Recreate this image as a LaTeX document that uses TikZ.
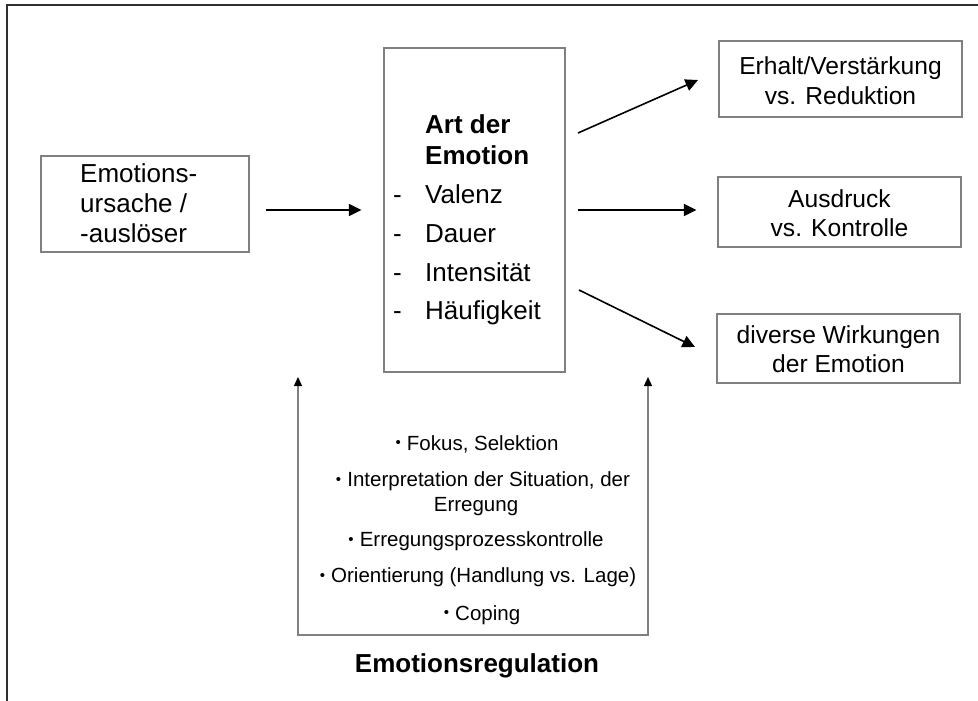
\documentclass[tikz,border=0pt]{standalone}
\usepackage{fontspec}
\setmainfont{Liberation Sans}
\usetikzlibrary{arrows.meta,calc}
\definecolor{boxgray}{HTML}{808080}
\definecolor{framegray}{HTML}{303030}
\newcommand{\smallbul}{\raisebox{0.12em}{\fontsize{15}{15}\selectfont •}\hspace{0.3em}}
\begin{document}
\begin{tikzpicture}[x=1pt,y=-1pt,
  box/.style={draw=boxgray,line width=1.3pt,inner sep=0pt},
  rtxt/.style={inner sep=0pt,anchor=base,font=\fontsize{24.6}{29}\selectfont},
  ltxt/.style={inner sep=0pt,anchor=base west,font=\fontsize{26}{30}\selectfont},
  btxt/.style={inner sep=0pt,anchor=base west,font=\bfseries\fontsize{26}{30}\selectfont},
  itxt/.style={inner sep=0pt,anchor=base,font=\fontsize{20.5}{24}\selectfont},
  arr/.style={line width=1.6pt,-{Triangle[length=12.5pt,width=12pt]}},
  brk/.style={draw=boxgray,line width=1.3pt,
    {Triangle[length=9pt,width=8pt,color=black]}-{Triangle[length=9pt,width=8pt,color=black]}},
  frame/.style={draw=framegray,line width=2pt}
]
\useasboundingbox (0,0) rectangle (978,701);
\fill[white] (0,0) rectangle (978,701);
\draw[frame] (7,701) -- (7,5) -- (978,5);

% boxes
\node[box,minimum width=208pt,minimum height=96pt] (cause) at (145,204) {};
\node[box,minimum width=181pt,minimum height=324pt] (art) at (474.5,210) {};
\node[box,minimum width=243pt,minimum height=76pt] (keep) at (840.5,79) {};
\node[box,minimum width=243pt,minimum height=70pt] (expr) at (839.5,212) {};
\node[box,minimum width=243pt,minimum height=69pt] (eff) at (838.5,348.5) {};

% left box text
\node[ltxt] (c1) at (80,182) {Emotions-};
\node[ltxt] (c2) at (80,212.5) {ursache /};
\node[ltxt] (c3) at (80,242) {-auslöser};

% center box text
\node[btxt] (a1) at (425,133) {Art der};
\node[btxt] (a2) at (425,164) {Emotion};
\node[ltxt] (a3) at (393,203) {\makebox[32pt][l]{-}Valenz};
\node[ltxt] (a4) at (393,242) {\makebox[32pt][l]{-}Dauer};
\node[ltxt] (a5) at (393,281) {\makebox[32pt][l]{-}Intensität};
\node[ltxt] (a6) at (393,319) {\makebox[32pt][l]{-}Häufigkeit};

% right boxes text
\node[rtxt] (k1) at (840.5,75) {Erhalt/Verstärkung};
\node[rtxt] (k2) at (840.5,104) {vs. Reduktion};
\node[rtxt] (e1) at (839.5,207) {Ausdruck};
\node[rtxt] (e2) at (839.5,236) {vs. Kontrolle};
\node[rtxt] (w1) at (838.5,343) {diverse Wirkungen};
\node[rtxt] (w2) at (838.5,372.5) {der Emotion};

% arrows
\draw[arr,shorten <=16pt,shorten >=22pt] (cause.east |- art.west) -- (art.west);
\coordinate (t1s) at (578,133);
\coordinate (t1e) at (698,80);
\coordinate (t3s) at (579,290);
\coordinate (t3e) at (695,347);
\draw[arr] (t1s) -- (t1e);
\draw[arr,shorten <=12pt,shorten >=21pt] (art.east) -- (art.east -| expr.west);
\draw[arr] (t3s) -- (t3e);

% regulation bracket
\coordinate (bl) at (298,377);
\coordinate (blb) at (298,635);
\coordinate (brb) at (648,635);
\coordinate (br) at (648,377);
\draw[brk] (bl) -- (blb) -- (brb) -- (br);

% regulation items
\node[itxt] (r1) at (477,450) {\smallbul Fokus, Selektion};
\node[itxt] (r2) at (483,486.5) {\smallbul Interpretation der Situation, der};
\node[itxt] (r3) at (476,511) {Erregung};
\node[itxt] (r4) at (476,546.5) {\smallbul Erregungsprozesskontrolle};
\node[itxt] (r5) at (478,582.5) {\smallbul Orientierung (Handlung vs. Lage)};
\node[itxt] (r6) at (482,620) {\smallbul Coping};

\node[inner sep=0pt,anchor=base,font=\bfseries\fontsize{26}{30}\selectfont] (reg) at (477,672) {Emotionsregulation};
\end{tikzpicture}
\end{document}
